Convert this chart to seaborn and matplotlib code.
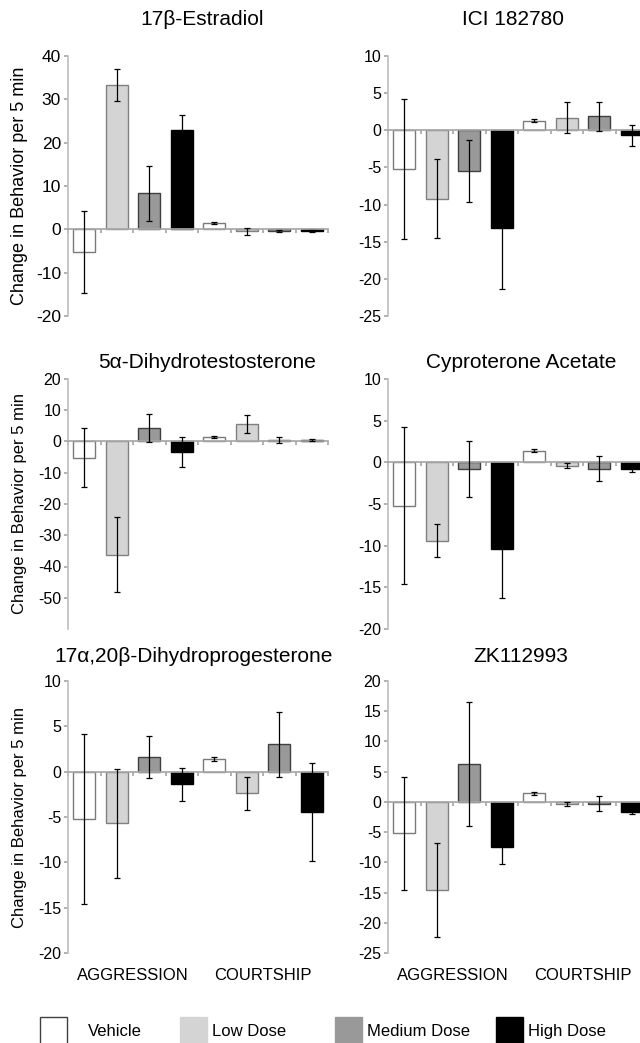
import numpy as np
import pandas as pd
import matplotlib
matplotlib.use("Agg")
import matplotlib.pyplot as plt
import matplotlib.patches as mpatches
import seaborn as sns

# data
doses = ["Vehicle", "Low Dose", "Medium Dose", "High Dose"]
behaviors = ["AGGRESSION", "COURTSHIP"]
titles = ["17\u03b2-Estradiol", "ICI 182780", "5\u03b1-Dihydrotestosterone",
          "Cyproterone Acetate", "17\u03b1,20\u03b2-Dihydroprogesterone", "ZK112993"]

estradiol_mean = [-5.2, 33.4, 8.3, 23.0, 1.4, -0.4, -0.3, -0.3]
estradiol_err = [9.4, 3.7, 6.4, 3.5, 0.2, 0.8, 0.2, 0.2]
ici_mean = [-5.2, -9.2, -5.5, -13.1, 1.3, 1.7, 1.9, -0.7]
ici_err = [9.4, 5.3, 4.2, 8.3, 0.2, 2.1, 1.95, 1.4]
dht_mean = [-5.2, -36.2, 4.3, -3.4, 1.4, 5.7, 0.4, 0.4]
dht_err = [9.4, 12.1, 4.4, 4.8, 0.2, 2.9, 0.9, 0.3]
cpa_mean = [-5.2, -9.4, -0.8, -10.4, 1.4, -0.4, -0.8, -0.8]
cpa_err = [9.4, 2.0, 3.4, 5.9, 0.2, 0.3, 1.5, 0.4]
dhp_mean = [-5.2, -5.7, 1.6, -1.4, 1.4, -2.4, 3.0, -4.4]
dhp_err = [9.4, 6.0, 2.3, 1.85, 0.2, 1.85, 3.6, 5.4]
zk_mean = [-5.2, -14.6, 6.3, -7.4, 1.4, -0.3, -0.3, -1.7]
zk_err = [9.4, 7.8, 10.3, 2.85, 0.2, 0.3, 1.2, 0.3]

means = [estradiol_mean, ici_mean, dht_mean, cpa_mean, dhp_mean, zk_mean]
errs = [estradiol_err, ici_err, dht_err, cpa_err, dhp_err, zk_err]

ylims = [(-20, 40), (-25, 10), (-60, 20), (-20, 10), (-20, 10), (-25, 20)]
yticks = [np.arange(-20, 41, 10), np.arange(-25, 11, 5), np.arange(-50, 21, 10),
          np.arange(-20, 11, 5), np.arange(-20, 11, 5), np.arange(-25, 21, 5)]

fills = {"Vehicle": "#ffffff", "Low Dose": "#d4d4d4", "Medium Dose": "#999999", "High Dose": "#000000"}
edges = {"Vehicle": "#7a7a7a", "Low Dose": "#808080", "Medium Dose": "#404040", "High Dose": "#000000"}

rows = []
for p in range(6):
    for i, (b, d) in enumerate([(b, d) for b in behaviors for d in doses]):
        rows.append(dict(panel=p, bar=f"{b} {d}", behavior=b, dose=d,
                         mean=means[p][i], err=errs[p][i]))
df = pd.DataFrame(rows)
bar_order = [f"{b} {d}" for b in behaviors for d in doses]
bar_dose = [d for b in behaviors for d in doses]

sns.set_theme(style="white")
plt.rcParams["font.family"] = ["Liberation Sans", "DejaVu Sans"]
plt.rcParams["axes.unicode_minus"] = False
plt.rcParams["text.color"] = "black"
plt.rcParams["xtick.labelcolor"] = "black"
plt.rcParams["ytick.labelcolor"] = "black"

W, H = 640, 1043
fig = plt.figure(figsize=(W / 100, H / 100), dpi=100)

row_px = [(56, 316), (379, 629), (681, 953)]
col_px = [68, 388]
title_pos = [(202, 25), (513, 25), (207, 368), (521, 368), (194, 662), (521, 662)]

for p in range(6):
    r, c = divmod(p, 2)
    top, bot = row_px[r]
    ax = fig.add_axes([col_px[c] / W, 1 - bot / H, 260 / W, (bot - top) / H])
    sub = df[df.panel == p]
    sns.barplot(data=sub, x="bar", y="mean", hue="dose", hue_order=doses,
                order=bar_order, palette=fills, dodge=False, width=0.69,
                errorbar=None, legend=False, linewidth=1, ax=ax)
    for patch in ax.patches:
        idx = int(round(patch.get_x() + patch.get_width() / 2))
        if 0 <= idx < 8:
            patch.set_edgecolor(edges[bar_dose[idx]])
            patch.set_linewidth(1)
    ax.errorbar(np.arange(8), sub["mean"], yerr=sub["err"], fmt="none",
                ecolor="black", elinewidth=0.9, capsize=2, capthick=0.9, zorder=4)

    ax.set_xlim(-0.5, 7.5)
    ax.set_ylim(*ylims[p])
    ax.set_yticks(yticks[p])
    ax.set_xticks(np.arange(-0.5, 8, 1))
    ax.set_xlabel("")
    ax.set_ylabel("")
    for s in ["top", "right"]:
        ax.spines[s].set_visible(False)
    ax.spines["bottom"].set_position(("data", 0))
    ax.spines["bottom"].set_color("#a8a8a8")
    ax.spines["left"].set_color("#c0c0c0")
    ax.tick_params(axis="x", direction="out", length=3, color="#a8a8a8",
                   labelbottom=False, bottom=True)
    ax.tick_params(axis="y", direction="out", length=3, color="#a8a8a8",
                   labelsize=12.5 if p == 0 else 11.5, pad=2, left=True)

    tx, ty = title_pos[p]
    fig.text(tx / W, 1 - ty / H, titles[p], ha="center", va="baseline", fontsize=15)

    if c == 0:
        fig.text(20 / W, 1 - (top + bot) / 2 / H, "Change in Behavior per 5 min",
                 rotation=90, ha="center", va="center", fontsize=13 if r == 0 else 12)
    if r == 2:
        yb = -(980 - bot) / (bot - top)
        ax.text(1.5, yb, behaviors[0], transform=ax.get_xaxis_transform(),
                ha="center", va="baseline", fontsize=12)
        ax.text(5.5, yb, behaviors[1], transform=ax.get_xaxis_transform(),
                ha="center", va="baseline", fontsize=12)

# legend along the bottom
legend_px = [(40, 88), (180, 212), (335, 367), (496, 528)]
for d, (bx, tx) in zip(doses, legend_px):
    rect = mpatches.Rectangle((bx / W, 1 - 1050 / H), 27 / W, 33 / H,
                              transform=fig.transFigure,
                              facecolor=fills[d],
                              edgecolor="#404040" if d == "Vehicle" else fills[d],
                              linewidth=1)
    fig.add_artist(rect)
    fig.text(tx / W, 1 - 1036 / H, d, ha="left", va="baseline", fontsize=12)

fig.savefig("out.png", dpi=100)
